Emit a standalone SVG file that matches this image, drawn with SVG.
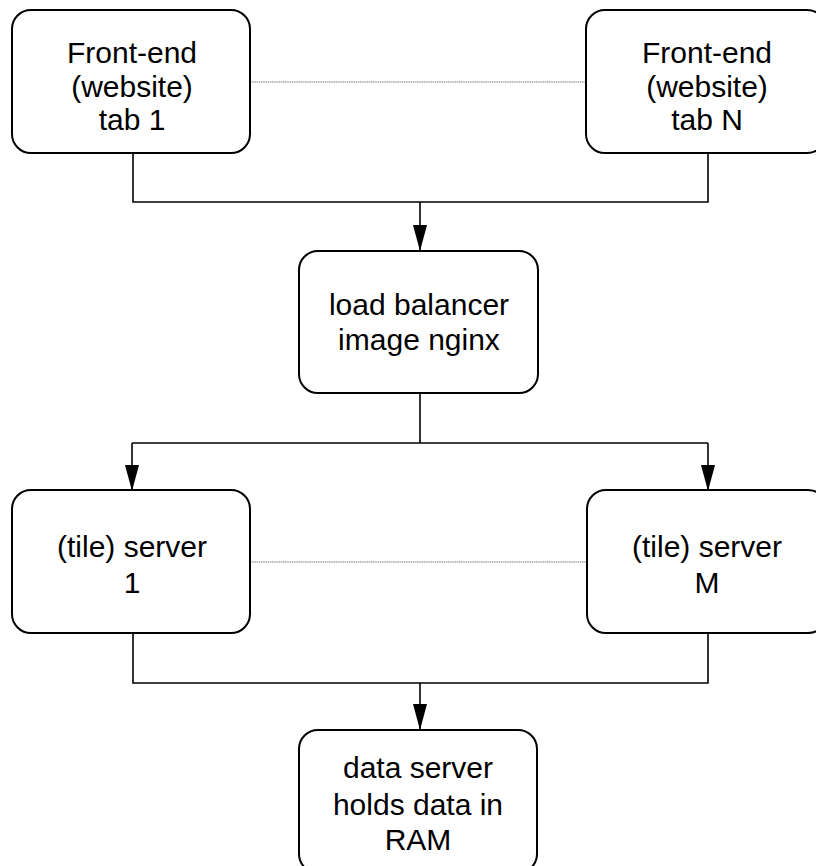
<svg xmlns="http://www.w3.org/2000/svg" width="816" height="866" viewBox="0 0 816 866">
<style>
.box{fill:#fff;stroke:#000;stroke-width:2}
.t{font-family:"Liberation Sans",Arial,sans-serif;font-size:30px;fill:#000;text-anchor:middle}
.c{fill:none;stroke:#000;stroke-width:1.6}
.d{fill:none;stroke:#7a7a7a;stroke-width:1.1;stroke-dasharray:1.5 0.7}
</style>
<defs>
<marker id="ah" markerUnits="userSpaceOnUse" markerWidth="26" markerHeight="14" refX="25" refY="7" orient="auto" viewBox="0 0 26 14">
<path d="M0,0 L26,7 L0,14 Z" fill="#000"/>
</marker>
</defs>
<rect width="816" height="866" fill="#fff"/>
<g id="connectors">
<line class="d" x1="250" y1="82" x2="586" y2="82"/>
<line class="d" x1="250" y1="562" x2="587" y2="562"/>
<path class="c" d="M133,153 V202 H708 V153"/>
<path class="c" d="M420,202 V250" marker-end="url(#ah)"/>
<path class="c" d="M420,393 V443"/>
<path class="c" d="M132,443 H708"/>
<path class="c" d="M132,443 V490" marker-end="url(#ah)"/>
<path class="c" d="M708,443 V490" marker-end="url(#ah)"/>
<path class="c" d="M133,633 V683 H708 V633"/>
<path class="c" d="M420,683 V729" marker-end="url(#ah)"/>
</g>
<g id="frontend1">
<rect class="box" x="12" y="10" width="238" height="143" rx="19"/>
<text class="t" x="132" y="63">Front-end</text>
<text class="t" x="132" y="97">(website)</text>
<text class="t" x="132" y="130">tab 1</text>
</g>
<g id="frontendN">
<rect class="box" x="586" y="10" width="240" height="143" rx="19"/>
<text class="t" x="707" y="63">Front-end</text>
<text class="t" x="707" y="97">(website)</text>
<text class="t" x="707" y="130">tab N</text>
</g>
<g id="loadbalancer">
<rect class="box" x="299" y="251" width="239" height="142" rx="19"/>
<text class="t" x="419" y="315">load balancer</text>
<text class="t" x="419" y="350">image nginx</text>
</g>
<g id="tileserver1">
<rect class="box" x="12" y="490" width="238" height="143" rx="19"/>
<text class="t" x="132" y="557">(tile) server</text>
<text class="t" x="132" y="593">1</text>
</g>
<g id="tileserverM">
<rect class="box" x="587" y="490" width="240" height="143" rx="19"/>
<text class="t" x="707" y="557">(tile) server</text>
<text class="t" x="707" y="593">M</text>
</g>
<g id="dataserver">
<rect class="box" x="299" y="730" width="238" height="143" rx="19"/>
<text class="t" x="418" y="778">data server</text>
<text class="t" x="418" y="815">holds data in</text>
<text class="t" x="418" y="850">RAM</text>
</g>
</svg>
